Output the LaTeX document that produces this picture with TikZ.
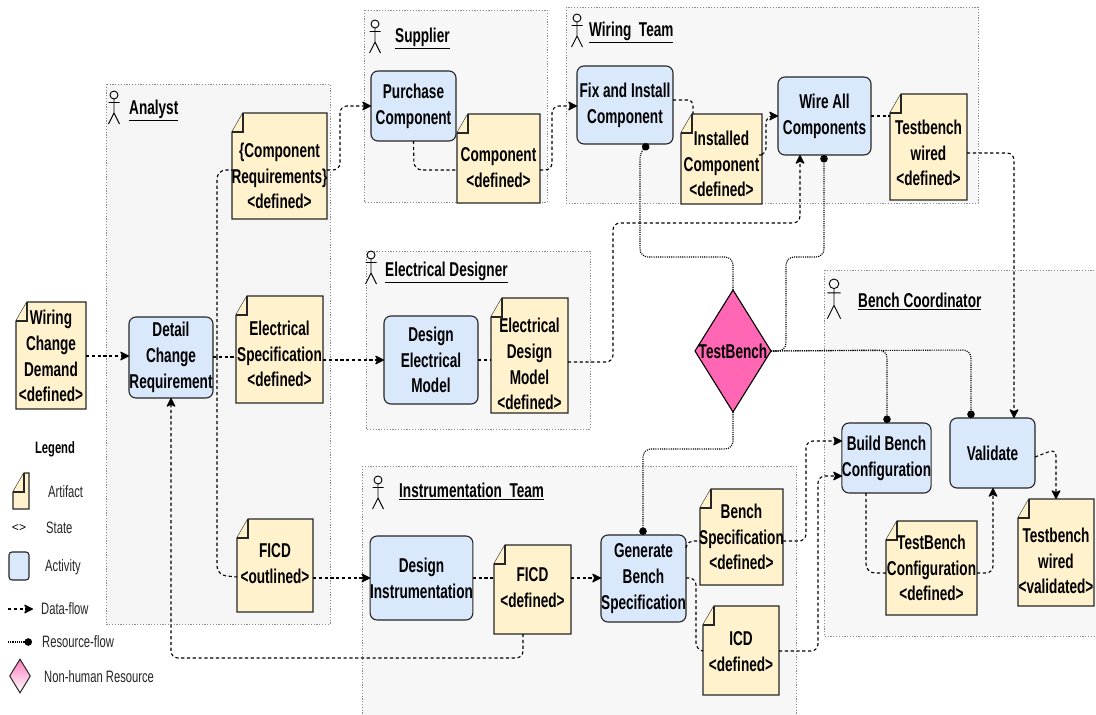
\documentclass[tikz,border=0pt]{standalone}
\usepackage{fontspec}
\usetikzlibrary{arrows.meta,shapes.geometric,calc}
\setmainfont{Liberation Sans}
\newfontfamily\lab[FakeStretch=0.68]{Liberation Sans}
\definecolor{actfill}{HTML}{DAE8FC}
\definecolor{artfill}{HTML}{FFF2CC}
\definecolor{lanefill}{HTML}{F7F7F7}
\definecolor{laneline}{HTML}{8C8C8C}
\definecolor{pinkres}{HTML}{FF66B3}
\tikzset{
  lanebox/.style={draw=laneline,fill=lanefill,line width=0.9pt,dash pattern=on 1.2pt off 1.6pt},
  boldtext/.style={font=\lab\bfseries\fontsize{20}{25.8}\selectfont,align=center,inner sep=0pt,text=black},
  lanetitle/.style={boldtext,anchor=west},
  legendtext/.style={font=\lab\fontsize{16.5}{20}\selectfont,anchor=west,inner sep=0pt,text=black!85},
  artbody/.style={draw=black!85,fill=artfill,line width=1.1pt,line join=miter},
  artbox/.style={inner sep=0pt,outer sep=0pt},
  activity/.style={boldtext,draw=black!85,fill=actfill,line width=1.1pt,rounded corners=7pt,outer sep=0pt},
  dataflow/.style={black,line width=1.1pt,dash pattern=on 3.2pt off 2.6pt,rounded corners=7pt,-{Stealth[length=10pt,width=10pt,inset=2.5pt,round=false]}},
  dataplain/.style={black,line width=1.1pt,dash pattern=on 3.2pt off 2.6pt,rounded corners=5pt},
  resflow/.style={black,line width=1.1pt,dash pattern=on 1.1pt off 1.1pt,rounded corners=8pt,-{Circle[length=7.5pt,width=7.5pt]}},
  resource/.style={boldtext,diamond,aspect=0.62,draw=black,fill=pinkres,line width=1.1pt,inner sep=0pt,outer sep=0pt},
  actorline/.style={draw=black,line width=0.9pt}
}
% \artifact{name}{x0}{y0}{x1}{y1}{text centre y}{text}
\newcommand{\artifact}[7]{%
  \pgfmathsetmacro{\ax}{#2+11}\pgfmathsetmacro{\ay}{#3+19}%
  \pgfmathsetmacro{\cx}{(#2+#4)/2}\pgfmathsetmacro{\cy}{(#3+#5)/2}%
  \pgfmathsetmacro{\boxw}{#4-#2}\pgfmathsetmacro{\boxh}{#5-#3}%
  \draw[artbody] (\ax,#3) -- (#4,#3) -- (#4,#5) -- (#2,#5) -- (#2,\ay) -- cycle;
  \draw[artbody] (\ax,#3) -- (\ax,\ay) -- (#2,\ay);
  \node[artbox,minimum width=\boxw pt,minimum height=\boxh pt] (#1) at (\cx,\cy) {};
  \node[boldtext] (#1T) at (\cx,#6) {#7};
}
% \activitybox{name}{x0}{y0}{x1}{y1}{text}
\newcommand{\activitybox}[6]{%
  \pgfmathsetmacro{\cx}{(#2+#4)/2}\pgfmathsetmacro{\cy}{(#3+#5)/2}%
  \pgfmathsetmacro{\boxw}{#4-#2}\pgfmathsetmacro{\boxh}{#5-#3}%
  \node[activity,minimum width=\boxw pt,minimum height=\boxh pt] (#1) at (\cx,\cy) {#6};
}
% \actorfig{x}{top y}{scale}
\newcommand{\actorfig}[3]{%
  \begin{scope}[shift={(#1,#2)},x=#3pt,y=-#3pt]
    \draw[actorline] (0,4) circle[radius=4];
    \draw[actorline] (0,8) -- (0,22) (-5.5,11.5) -- (5.5,11.5) (-5.5,33) -- (0,22) -- (5.5,33);
  \end{scope}
}
\begin{document}
\begin{tikzpicture}[x=1pt,y=-1pt]
\useasboundingbox (0,0) rectangle (1096,715);
\fill[white] (0,0) rectangle (1096,715);
% swimlanes
\draw[lanebox,fill=black!4] (106,84) rectangle (330,624);
\draw[lanebox] (364,10) rectangle (547,202);
\draw[lanebox] (566,7) rectangle (978,203);
\draw[lanebox] (366,251) rectangle (590,429);
\draw[lanebox] (362,466) rectangle (796,720);
\draw[lanebox] (824,270) rectangle (1100,636);
% actors
\actorfig{114}{91}{1}
\actorfig{375}{20}{1}
\actorfig{577}{14}{1}
\actorfig{371}{251}{1}
\actorfig{378}{476}{1}
\actorfig{834}{279}{1.2}
% lane titles
\node[lanetitle] (tanalyst) at (129,110) {\underline{Analyst}};
\node[lanetitle] (tsupplier) at (395,38) {\underline{Supplier}};
\node[lanetitle] (twiring) at (589,32) {\underline{Wiring\ \ Team}};
\node[lanetitle] (telec) at (385,272) {\underline{Electrical Designer}};
\node[lanetitle] (tinstr) at (399,491) {\underline{Instrumentation\ \ Team}};
\node[lanetitle] (tbench) at (858,301) {\underline{Bench Coordinator}};
% artifacts
\artifact{demand}{16}{302}{86}{409}{356}{Wiring\\Change\\Demand\\<defined>}
\artifact{compreq}{232}{113}{327}{219}{176}{\{Component\\Requirements\}\\<defined>}
\artifact{elecspec}{236}{296}{323}{403}{354}{Electrical\\Specification\\<defined>}
\artifact{ficdout}{237}{519}{313}{612}{564}{FICD\\<outlined>}
\artifact{component}{457}{114}{540}{203}{168}{Component\\<defined>}
\artifact{installed}{681}{114}{762}{204}{164}{Installed\\Component\\<defined>}
\artifact{tbwired}{890}{94}{967}{200}{153}{Testbench\\wired\\<defined>}
\artifact{edm}{491}{298}{568}{413}{364}{Electrical\\Design\\Model\\<defined>}
\artifact{ficddef}{494}{545}{571}{634}{588}{FICD\\<defined>}
\artifact{benchspec}{700}{489}{783}{585}{537}{Bench\\Specification\\<defined>}
\artifact{icd}{703}{606}{779}{695}{652}{ICD\\<defined>}
\artifact{tbconfig}{886}{521}{977}{615}{568}{TestBench\\Configuration\\<defined>}
\artifact{tbvalid}{1018}{499}{1094}{606}{561}{Testbench\\wired\\<validated>}
% activities
\activitybox{detail}{129}{317}{213}{398}{Detail\\Change\\Requirement}
\activitybox{purchase}{371}{71}{456}{141}{Purchase\\Component}
\activitybox{fix}{577}{66}{673}{144}{Fix and Install\\Component}
\activitybox{wire}{778}{77}{871}{155}{Wire All\\Components}
\activitybox{design}{384}{316}{478}{404}{Design\\Electrical\\Model}
\activitybox{instr}{373}{536}{470}{620}{Design\\Instrumentation}
\activitybox{generate}{601}{535}{686}{622}{Generate\\Bench\\Specification}
\activitybox{build}{842}{423}{931}{493}{Build Bench\\Configuration}
\activitybox{validate}{950}{418}{1035}{488}{Validate}
% resource
\node[resource,minimum width=76pt,minimum height=122pt] (testbench) at (733,351) {};
\node[boldtext] (testbenchT) at (733,351) {TestBench};
% data flows
\draw[dataflow] (demand.east |- 0,356) -- (detail.west |- 0,356);
\draw[dataplain] (detail.east |- 0,357) -- (elecspec.west |- 0,357);
\draw[dataplain,rounded corners=9pt] (217,357) -- (217,170) -- (compreq.west |- 0,170);
\draw[dataplain,rounded corners=9pt] (217,357) -- (217,575) -- (ficdout.west |- 0,577);
\draw[dataflow] (compreq.east |- 0,170) -- (340,170) -- (340,106) -- (purchase.west |- 0,106);
\draw[dataplain,rounded corners=8pt] (purchase.south |- 0,141) -- (414,170) -- (component.west |- 0,170);
\draw[dataflow] (component.east |- 0,170) -- (552,170) -- (552,106) -- (fix.west |- 0,106);
\draw[dataplain] (fix.east |- 0,100) -- (693,100) -- (693,114);
\draw[dataflow] (installed.east |- 0,155) -- (766,155) -- (766,116) -- (wire.west |- 0,116);
\draw[dataplain] (wire.east |- 0,116) -- (tbwired.west |- 0,116);
\draw[dataflow] (tbwired.east |- 0,153) -- (1014,153) -- (1014,418);
\draw[dataflow] (elecspec.east |- 0,360) -- (design.west |- 0,360);
\draw[dataplain] (design.east |- 0,360) -- (edm.west |- 0,360);
\draw[dataflow] (edm.east |- 0,362) -- (613,362) -- (613,223) -- (800,223) -- (800,155);
\draw[dataflow] (ficdout.east |- 0,578) -- (instr.west |- 0,578);
\draw[dataplain] (instr.east |- 0,578) -- (ficddef.west |- 0,578);
\draw[dataflow] (ficddef.east |- 0,578) -- (generate.west |- 0,578);
\draw[dataflow] (523,634) -- (523,658) -- (171,658) -- (detail.south -| 171,0);
\draw[dataplain] (generate.east |- 0,548) -- (688,541) -- (benchspec.west |- 0,541);
\draw[dataplain,rounded corners=7pt] (generate.east |- 0,578) -- (696,578) -- (696,650) -- (icd.west |- 0,651);
\draw[dataflow] (benchspec.east |- 0,541) -- (806,541) -- (806,441) -- (build.west |- 0,441);
\draw[dataflow] (icd.east |- 0,651) -- (818,651) -- (818,476) -- (build.west |- 0,476);
\draw[dataplain,rounded corners=9pt] (build.south -| 866,0) -- (866,573) -- (tbconfig.west |- 0,573);
\draw[dataflow] (tbconfig.east |- 0,573) -- (993,573) -- (993,488);
\draw[dataflow] (validate.east |- 0,457) -- (1056,449) -- (1056,499);
% resource flows
\draw[resflow] (testbench.north) -- (733,257) -- (640,257) -- (640,150) -- (649,145);
\draw[resflow] (testbench.east) -- (786,351) -- (786,257) -- (824,257) -- (824,155);
\draw[resflow] (testbench.east) -- (887,350) -- (887,423);
\draw[resflow] (testbench.east) -- (971,350) -- (971,418);
\draw[resflow] (testbench.south) -- (733,449) -- (643,449) -- (643,535);
% legend
\node[boldtext,font=\lab\bfseries\fontsize{16.5}{20}\selectfont] (legendtitle) at (55,449) {Legend};
\draw[artbody,fill=artfill] (24,473) -- (29,473) -- (29,509) -- (13,509) -- (13,492) -- cycle;
\draw[artbody] (24,473) -- (24,492) -- (13,492);
\node[legendtext] (lartifact) at (48,492) {Artifact};
\node[font=\fontsize{12}{14}\selectfont,inner sep=0pt] (lstatesym) at (19,528) {<>};
\node[legendtext] (lstate) at (46,528) {State};
\node[activity,rounded corners=3pt,minimum width=20pt,minimum height=28pt,inner sep=0pt] (lactbox) at (19,566) {};
\node[legendtext] (lactivity) at (45,567) {Activity};
\coordinate (ldatastart) at (8,609);
\coordinate (ldataend) at (33,609);
\draw[dataflow] (ldatastart) -- (ldataend);
\node[legendtext] (ldata) at (41,609) {Data-flow};
\coordinate (lresstart) at (8,642);
\coordinate (lresend) at (32,642);
\draw[resflow] (lresstart) -- (lresend);
\node[legendtext] (lres) at (42,642) {Resource-flow};
\node[diamond,aspect=0.62,draw=black!85,line width=1pt,top color=pinkres!85,bottom color=white,minimum width=21pt,minimum height=34pt,inner sep=0pt] (lnonhuman) at (20,676) {};
\node[legendtext] (lnh) at (44,677) {Non-human Resource};
\end{tikzpicture}
\end{document}
